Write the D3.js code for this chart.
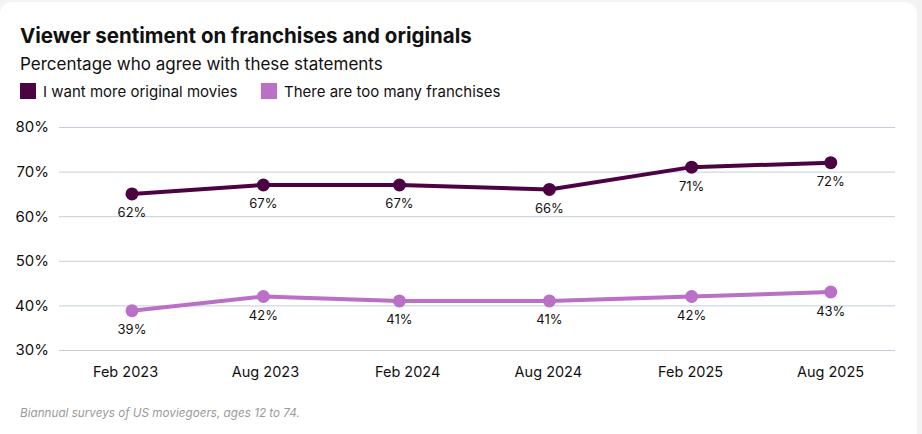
<!DOCTYPE html>
<html>
<head>
<meta charset="utf-8">
<script src="https://cdn.jsdelivr.net/npm/d3@7"></script>
<style>
  html, body { margin: 0; padding: 0; background: #f3f3f3; }
  svg { display: block; font-family: Inter, "Noto Sans", sans-serif; }
</style>
</head>
<body>
<div id="viz"></div>
<script>
// survey waves
const periods = ["Feb 2023", "Aug 2023", "Feb 2024", "Aug 2024", "Feb 2025", "Aug 2025"];
const tickDates = ["2023-02-01", "2023-08-01", "2024-02-01", "2024-08-01", "2025-02-01", "2025-08-01"];
const surveyDates = ["2023-02-10", "2023-07-30", "2024-01-22", "2024-08-03", "2025-02-03", "2025-08-02"];

const originals = [65, 67, 67, 66, 71, 72];
const originalsLabels = ["62%", "67%", "67%", "66%", "71%", "72%"];
const franchises = [38.8, 42, 41, 41, 42, 43];
const franchisesLabels = ["39%", "42%", "41%", "41%", "42%", "43%"];

const yTicks = [30, 40, 50, 60, 70, 80];
const seriesNames = ["I want more original movies", "There are too many franchises"];
const colors = ["#4c0342", "#b970c5"];

let width = 922;
let height = 434;

const parse = d3.utcParse("%Y-%m-%d");

const x = d3.scaleUtc()
    .domain([parse(tickDates[0]), parse(tickDates[tickDates.length - 1])])
    .range([125, 830]);

const y = d3.scaleLinear()
    .domain([30, 80])
    .range([350, 127]);

const svg = d3.select("#viz")
    .append("svg")
    .attr("width", width)
    .attr("height", height);

// card
svg.append("rect")
    .attr("x", 0)
    .attr("y", 2)
    .attr("width", 917)
    .attr("height", height + 20)
    .attr("rx", 12)
    .attr("fill", "#fff");

svg.append("text")
    .attr("x", 20)
    .attr("y", 43)
    .attr("font-size", 20.5)
    .attr("font-weight", 700)
    .attr("fill", "#111")
    .text("Viewer sentiment on franchises and originals");

svg.append("text")
    .attr("x", 20)
    .attr("y", 70)
    .attr("font-size", 17)
    .attr("fill", "#111")
    .text("Percentage who agree with these statements");

// legend
const legend = svg.append("g")
    .selectAll("g")
    .data(seriesNames)
    .enter().append("g")
    .attr("transform", (d, i) => `translate(${i ? 261 : 20},83)`);

legend.append("rect")
    .attr("width", 16)
    .attr("height", 16)
    .attr("fill", (d, i) => colors[i]);

legend.append("text")
    .attr("x", 23)
    .attr("y", 14)
    .attr("font-size", 15)
    .attr("fill", "#111")
    .text(d => d);

// grid + y axis
const yAxis = svg.append("g")
    .attr("transform", "translate(59,0)")
    .call(d3.axisLeft(y).tickValues(yTicks).tickSize(-836).tickFormat(d => d + "%"));

yAxis.select(".domain").remove();
yAxis.selectAll(".tick line")
    .attr("stroke", "#c3ceda")
    .attr("stroke-width", 1);
yAxis.selectAll(".tick text")
    .attr("x", -10)
    .attr("font-size", 15)
    .attr("font-family", "Inter, sans-serif")
    .attr("fill", "#111");

// x axis
const xAxis = svg.append("g")
    .attr("transform", "translate(0,350)")
    .call(d3.axisBottom(x)
        .tickValues(tickDates.map(parse))
        .tickSize(0)
        .tickFormat((d, i) => periods[i]));

xAxis.select(".domain").remove();
xAxis.selectAll(".tick text")
    .attr("dy", 0)
    .attr("y", 27)
    .attr("font-size", 14.5)
    .attr("font-family", "Inter, sans-serif")
    .attr("fill", "#111");

const series = [
    { values: originals, labels: originalsLabels, color: colors[0] },
    { values: franchises, labels: franchisesLabels, color: colors[1] }
];

const line = d3.line()
    .x((d, i) => x(parse(surveyDates[i])))
    .y(d => y(d));

const g = svg.append("g");

series.forEach(s => {
    g.append("path")
        .attr("d", line(s.values))
        .attr("fill", "none")
        .attr("stroke", s.color)
        .attr("stroke-width", 4)
        .attr("stroke-linejoin", "round");

    const pts = g.append("g")
        .selectAll("g")
        .data(s.values)
        .enter().append("g")
        .attr("transform", (d, i) => `translate(${x(parse(surveyDates[i]))},${y(d)})`);

    pts.append("circle")
        .attr("r", 6.5)
        .attr("fill", s.color);

    pts.append("text")
        .attr("y", 23.5)
        .attr("text-anchor", "middle")
        .attr("font-size", 13)
        .attr("fill", "#111")
        .text((d, i) => s.labels[i]);
});

svg.append("text")
    .attr("x", 20)
    .attr("y", 417)
    .attr("font-size", 11.7)
    .attr("font-style", "italic")
    .attr("fill", "#999")
    .text("Biannual surveys of US moviegoers, ages 12 to 74.");
</script>
</body>
</html>
